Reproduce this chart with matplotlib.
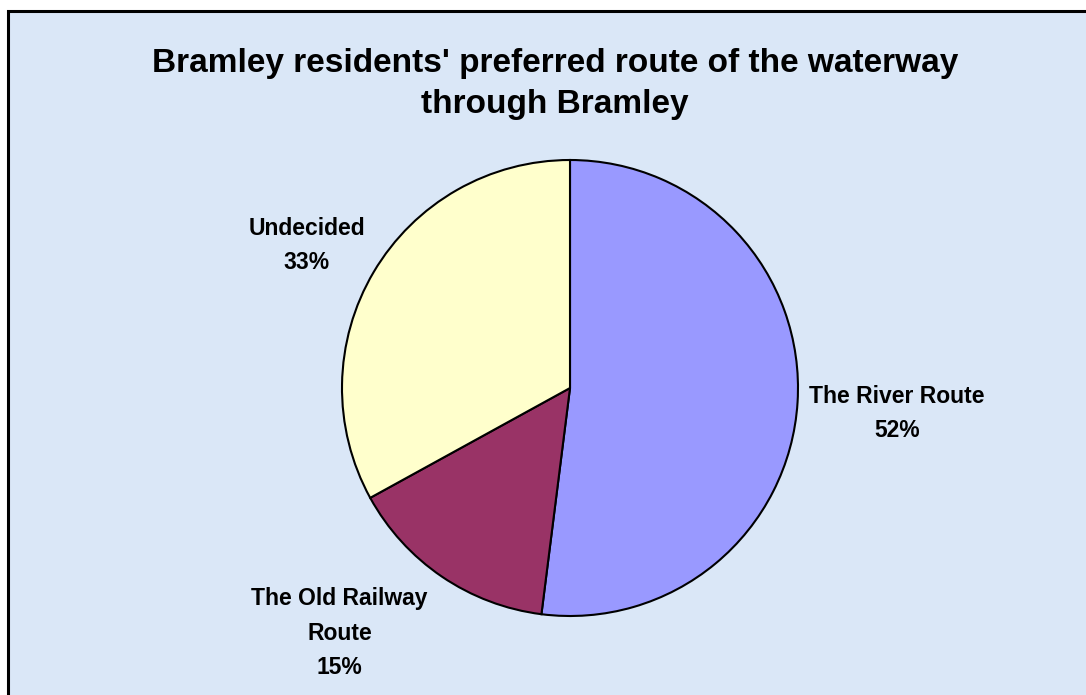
import numpy as np
import matplotlib
matplotlib.use("Agg")
import matplotlib.pyplot as plt
from matplotlib.patches import Rectangle

# data
categories = ["The River Route", "The Old Railway\nRoute", "Undecided"]
shares = [52, 15, 33]
colors = ["#9999FF", "#993366", "#FFFFCC"]
title = "Bramley residents' preferred route of the waterway\nthrough Bramley"

W, H = 1086, 695
fig = plt.figure(figsize=(W / 100, H / 100), dpi=100, facecolor="white")
plt.rcParams["font.family"] = ["Liberation Sans", "DejaVu Sans"]

# chart area: light blue panel with black top/left border (cropped at right/bottom)
bg = fig.add_axes([0, 0, 1, 1])
bg.set_xlim(0, W)
bg.set_ylim(H, 0)
bg.axis("off")
bg.add_patch(Rectangle((8, 11), W, H, facecolor="#DAE7F7",
                       edgecolor="black", linewidth=2.2))

bg.text(555, 84, title, ha="center", va="center", fontsize=24,
        fontweight="bold", linespacing=1.40)

# pie axes placed around centre (570, 388), radius 228 px
cx, cy, r = 570, 388, 228
ax = fig.add_axes([(cx - r) / W, (H - cy - r) / H, 2 * r / W, 2 * r / H])
ax.set_facecolor("none")
wedges, _ = ax.pie(shares, colors=colors, startangle=90, counterclock=False,
                   radius=1.0, wedgeprops=dict(edgecolor="black", linewidth=1.5))
ax.set_xlim(-1, 1)
ax.set_ylim(-1, 1)
ax.set_aspect("equal")
ax.axis("off")

# label placement (in radius units relative to the pie centre)
label_pos = [(1.435, -0.112), (-1.01, -1.075), (-1.155, 0.626)]
for name, pct, (lx, ly) in zip(categories, shares, label_pos):
    ax.text(lx, ly, f"{name}\n{pct}%", ha="center", va="center",
            fontsize=16.5, fontweight="bold", linespacing=1.62, clip_on=False)

fig.savefig("out.png", dpi=100, facecolor="white")
